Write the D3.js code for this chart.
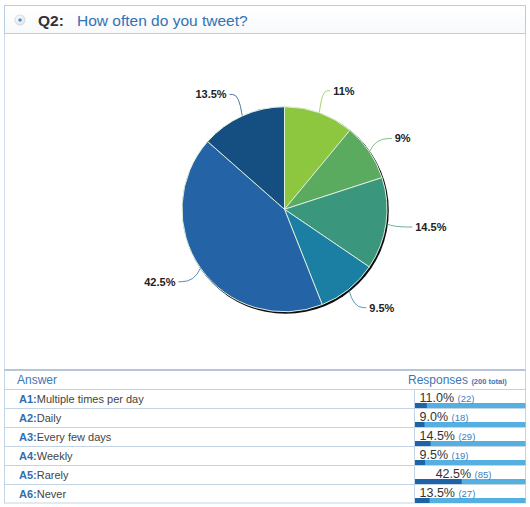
<!DOCTYPE html>
<html><head><meta charset="utf-8">
<script src="https://cdn.jsdelivr.net/npm/d3@7"></script>
<style>
html,body{margin:0;padding:0;background:#fff;}
svg{display:block;font-family:"Liberation Sans",Arial,Helvetica,sans-serif;}
</style></head>
<body>
<svg id="c" width="530" height="507"></svg>
<script>
const questionCode = "Q2:";
const questionText = "How often do you tweet?";
const codes = ["A1", "A2", "A3", "A4", "A5", "A6"];
const answers = ["Multiple times per day", "Daily", "Every few days", "Weekly", "Rarely", "Never"];
const counts = [22, 18, 29, 19, 85, 27];
const total = 200;
const pieLabels = ["11%", "9%", "14.5%", "9.5%", "42.5%", "13.5%"];
const pctLabels = ["11.0%", "9.0%", "14.5%", "9.5%", "42.5%", "13.5%"];
const sliceColors = ["#8dc63f", "#5aab5f", "#3a977d", "#1a7fa3", "#2463a5", "#154e80"];

const svg = d3.select("#c");
const defs = svg.append("defs");
const blur = defs.append("filter").attr("id","sh").attr("x","-10%").attr("y","-10%").attr("width","120%").attr("height","120%");
blur.append("feGaussianBlur").attr("stdDeviation",0.7);
const rg = defs.append("radialGradient").attr("id","rad").attr("cx","40%").attr("cy","35%").attr("r","70%");
rg.append("stop").attr("offset","0%").attr("stop-color","#ffffff");
rg.append("stop").attr("offset","100%").attr("stop-color","#dfe3e8");
const hg = defs.append("linearGradient").attr("id","hdr").attr("x1",0).attr("y1",0).attr("x2",0).attr("y2",1);
hg.append("stop").attr("offset","0%").attr("stop-color","#ffffff");
hg.append("stop").attr("offset","100%").attr("stop-color","#f7f9fb");

// Frame
svg.append("rect").attr("x",4.5).attr("y",33.5).attr("width",521).attr("height",336)
  .attr("fill","#fff").attr("stroke","#cfdce8");
svg.append("rect").attr("x",4.5).attr("y",5.5).attr("width",521).attr("height",28)
  .attr("fill","url(#hdr)").attr("stroke","#b9cde0");

// Radio icon
svg.append("circle").attr("cx",20).attr("cy",20).attr("r",5.5).attr("fill","#e6e8eb").attr("filter","url(#sh)");
svg.append("circle").attr("cx",20).attr("cy",20).attr("r",5).attr("fill","url(#rad)").attr("stroke","#d0d4d9").attr("stroke-width",0.6);
svg.append("circle").attr("cx",20).attr("cy",20).attr("r",1.8).attr("fill","#4a8fd0");

svg.append("text").attr("x",38).attr("y",26).attr("font-size",15.5).attr("font-weight","bold")
  .attr("fill","#333").text(questionCode);
svg.append("text").attr("x",77).attr("y",26).attr("font-size",15.5)
  .attr("fill","#3272b5").text(questionText);

// Pie
const cx = 284.5, cy = 209.3, R = 102.5;
const g = svg.append("g").attr("transform",`translate(${cx},${cy})`);
g.append("circle").attr("cx",1.2).attr("cy",1.4).attr("r",R+0.6).attr("fill","#111").attr("filter","url(#sh)");
const pie = d3.pie().sort(null).value(d => d)(counts);
const arc = d3.arc().innerRadius(0).outerRadius(R);
g.selectAll("path.slice").data(pie).join("path").attr("class","slice")
  .attr("d",arc).attr("fill",(d,i)=>sliceColors[i])
  .attr("stroke","#dceedd").attr("stroke-width",1);

// Leader lines and labels
function pt(r,a){ return [Math.sin(a)*r, -Math.cos(a)*r]; }
pie.forEach((d,i)=>{
  const a = (d.startAngle + d.endAngle)/2;
  const p0 = pt(R+0.5,a), p2 = pt(R+23.5,a);
  const right = Math.sin(a) >= 0;
  const s = right ? 1 : -1;
  const c = [p0[0] + (p2[0]-p0[0])*0.3, p2[1]];
  const p3 = [p2[0] + s*3, p2[1]];
  const path = d3.path();
  path.moveTo(p0[0],p0[1]);
  path.quadraticCurveTo(c[0],c[1],p2[0],p2[1]);
  path.lineTo(p3[0],p3[1]);
  g.append("path").attr("d",path.toString()).attr("fill","none")
    .attr("stroke",sliceColors[i]).attr("stroke-opacity",0.75).attr("stroke-width",1);
  g.append("text").attr("x",p3[0]+s*3).attr("y",p3[1]).attr("dy","0.36em")
    .attr("text-anchor", right ? "start" : "end")
    .attr("font-size",11).attr("font-weight","bold").attr("fill","#222").text(pieLabels[i]);
});

// Table
const tableTop = 370, headH = 19, rowH = 19;
const left = 4.5, rightX = 525.5, colX = 414.5;
const rowY = d3.scaleLinear().domain([0, codes.length]).range([tableTop+headH, tableTop+headH+rowH*codes.length]);
const barW = d3.scaleLinear().domain([0,total]).range([0, rightX-colX]);

svg.append("rect").attr("x",left).attr("y",tableTop).attr("width",rightX-left).attr("height",headH+rowH*codes.length)
  .attr("fill","#fff").attr("stroke","#c3d4e5");
svg.append("line").attr("x1",left).attr("x2",rightX).attr("y1",tableTop).attr("y2",tableTop)
  .attr("stroke","#a8bed3").attr("stroke-width",1.6);
svg.append("text").attr("x",17).attr("y",tableTop+14).attr("font-size",12).attr("fill","#3a78b8").text("Answer");
const rh = svg.append("text").attr("x",408).attr("y",tableTop+14).attr("font-size",12).attr("fill","#3a78b8");
rh.append("tspan").text("Responses ");
rh.append("tspan").attr("font-size",7.5).attr("font-weight","bold").text("(200 total)");

codes.forEach((code,i)=>{
  const y0 = rowY(i), y1 = rowY(i+1);
  svg.append("line").attr("x1",left).attr("x2",rightX).attr("y1",y0+0.5).attr("y2",y0+0.5)
    .attr("stroke","#c3d4e5");
  const t = svg.append("text").attr("x",19).attr("y",y0+14).attr("font-size",11);
  t.append("tspan").attr("font-weight","bold").attr("fill","#2f6fb0").text(code+":");
  t.append("tspan").attr("fill","#444").text(answers[i]);
  // bars
  svg.append("rect").attr("x",colX).attr("y",y1-5).attr("width",rightX-colX).attr("height",5).attr("fill","#55afe0");
  const w = barW(counts[i]);
  svg.append("rect").attr("x",colX).attr("y",y1-5).attr("width",w).attr("height",5).attr("fill","#1d63a6");
  const tx = Math.max(colX+5, colX + w - 26);
  const pt2 = svg.append("text").attr("x",tx).attr("y",y0+13).attr("font-size",12.5).attr("fill","#333");
  pt2.append("tspan").text(pctLabels[i]+" ");
  pt2.append("tspan").attr("font-size",9.5).attr("fill","#3a7fc0").text("("+counts[i]+")");
});
svg.append("line").attr("x1",colX).attr("x2",colX).attr("y1",rowY(0)).attr("y2",rowY(codes.length))
  .attr("stroke","#c3d4e5");
</script>
</body></html>
